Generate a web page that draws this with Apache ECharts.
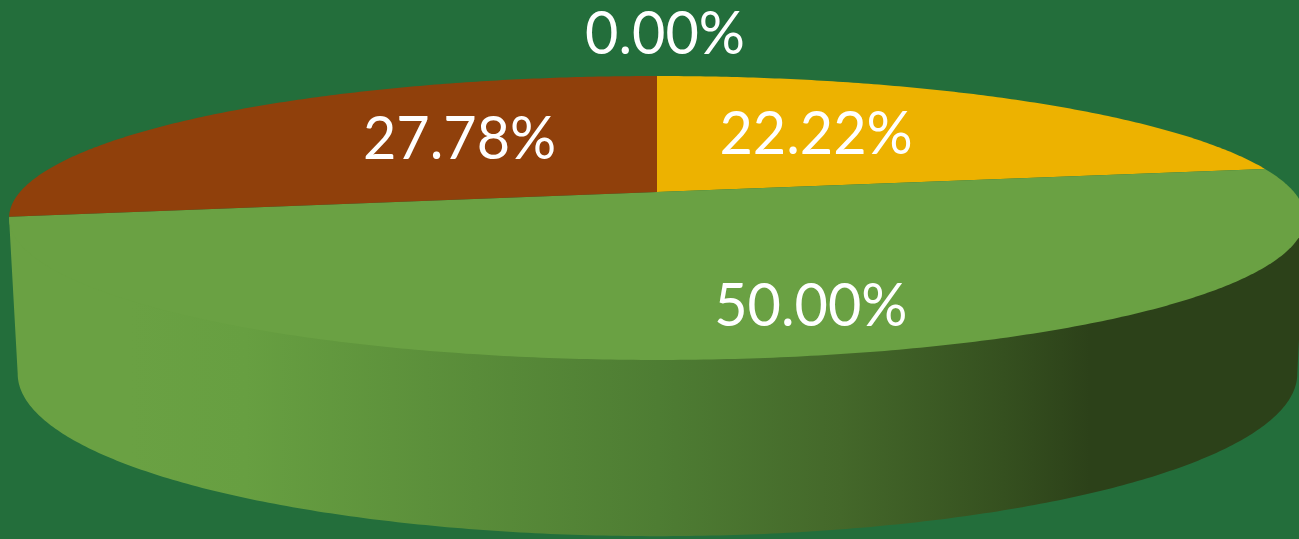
<!DOCTYPE html>
<html>
<head>
<meta charset="utf-8">
<style>
  html, body { margin: 0; padding: 0; background: #236e3b; overflow: hidden; }
  #chart { width: 1299px; height: 539px; }
</style>
<script src="https://cdn.jsdelivr.net/npm/echarts@6/dist/echarts.min.js"></script>
</head>
<body>
<div id="chart"></div>
<script>
// slices run clockwise from 12 o'clock
const sliceValues = [0, 22.22, 50, 27.78];
const sliceColors = ['#4472c4', '#edb200', '#6aa143', '#90400b'];

// label placement: how far along the slice radius, then a nudge in px
const labelRadius = [1, 0.4, 0.5, 0.4];
const labelNudge = [[8, -41], [4, -18], [93, 40], [-11, -19]];

// tilted disc, a circle seen in perspective
const tilt = 0.183;
const topDisc = { cx: 657, cy: 192, rx: 637, ry: 137.2 };
const bottomDisc = { cx: 657.5, cy: 344, rx: 629, ry: 157 };
const wallFrom = Math.acos(-tilt);
const wallTo = Math.PI * 2 - wallFrom;

const total = sliceValues.reduce((a, b) => a + b, 0);

function sliceAngles(i) {
  let before = 0;
  for (let k = 0; k < i; k++) before += sliceValues[k];
  return [before / total * Math.PI * 2, (before + sliceValues[i]) / total * Math.PI * 2];
}

function project(disc, t, r) {
  const u = Math.sin(t) * r;
  const v = Math.cos(t) * r;
  const w = 1 + tilt * v;
  return [disc.cx + disc.rx * u / w, disc.cy - disc.ry * v / w];
}

function arc(disc, from, to, r) {
  const steps = Math.max(2, Math.ceil(Math.abs(to - from) / 0.01));
  const pts = [];
  for (let s = 0; s <= steps; s++) {
    pts.push(project(disc, from + (to - from) * s / steps, r));
  }
  return pts;
}

const wallFill = new echarts.graphic.LinearGradient(130, 0, 1090, 0, [
  { offset: 0, color: '#6aa143' },
  { offset: 0.12, color: '#679f41' },
  { offset: 0.55, color: '#4e7d33' },
  { offset: 0.74, color: '#44682a' },
  { offset: 0.91, color: '#35501f' },
  { offset: 1, color: '#2c4119' }
], true);

const myChart = echarts.init(document.getElementById('chart'), null, { renderer: 'canvas' });

const seriesData = sliceValues.map(v => [v]);

myChart.setOption({
  backgroundColor: '#236e3b',
  animation: false,
  series: [
    {
      type: 'custom',
      coordinateSystem: 'none',
      silent: true,
      z: 1,
      data: seriesData,
      renderItem: function (params) {
        const [a, b] = sliceAngles(params.dataIndex);
        const from = Math.max(a, wallFrom);
        const to = Math.min(b, wallTo);
        if (to <= from) return null;
        // upper edge runs a little inside the rim so no seam shows under the top face
        const points = [project(topDisc, from, 1)]
          .concat(arc(topDisc, from, to, 0.98))
          .concat([project(topDisc, to, 1)])
          .concat(arc(bottomDisc, to, from, 1));
        return { type: 'polygon', shape: { points: points }, style: { fill: wallFill } };
      }
    },
    {
      type: 'custom',
      coordinateSystem: 'none',
      silent: true,
      z: 2,
      data: seriesData,
      renderItem: function (params, api) {
        if (!api.value(0)) return null;
        const [a, b] = sliceAngles(params.dataIndex);
        const points = [[topDisc.cx, topDisc.cy]].concat(arc(topDisc, a, b, 1));
        return {
          type: 'polygon',
          shape: { points: points },
          style: { fill: sliceColors[params.dataIndex] }
        };
      }
    },
    {
      type: 'custom',
      coordinateSystem: 'none',
      silent: true,
      z: 3,
      data: seriesData,
      renderItem: function (params, api) {
        const i = params.dataIndex;
        const [a, b] = sliceAngles(i);
        const p = project(topDisc, (a + b) / 2, labelRadius[i]);
        return {
          type: 'text',
          x: p[0] + labelNudge[i][0],
          y: p[1] + labelNudge[i][1],
          scaleX: 0.96,
          style: {
            text: api.value(0).toFixed(2) + '%',
            fill: '#ffffff',
            font: '60px Lato',
            align: 'center',
            verticalAlign: 'middle'
          }
        };
      }
    }
  ]
});
</script>
</body>
</html>
